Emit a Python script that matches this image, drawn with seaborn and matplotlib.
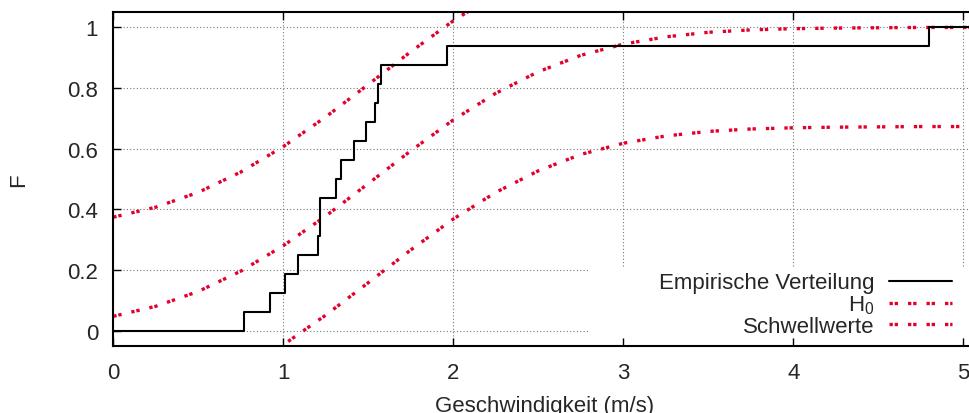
import numpy as np
import pandas as pd
import matplotlib
matplotlib.use("Agg")
import matplotlib.pyplot as plt
from matplotlib.patches import Rectangle
import seaborn as sns

ecdf_x = [0.766, 0.924, 1.008, 1.086, 1.205, 1.213, 1.216, 1.310, 1.339,
          1.414, 1.484, 1.541, 1.557, 1.576, 1.963, 4.800]
ecdf_f = [0.0625, 0.125, 0.1875, 0.25, 0.3125, 0.375, 0.4375, 0.5, 0.5625,
          0.625, 0.6875, 0.75, 0.8125, 0.875, 0.9375, 1.0]

# hypothesised distribution H0 and the KS thresholds around it
grid_x = [0.0, 0.25, 0.5, 0.75, 1.0, 1.25, 1.5, 1.75, 2.0, 2.25, 2.5,
          2.75, 3.0, 3.25, 3.5, 3.75, 4.0, 4.25, 4.5, 4.75, 5.0, 5.1]
h0_f = [0.047, 0.080, 0.129, 0.196, 0.280, 0.378, 0.485, 0.593, 0.695,
        0.783, 0.854, 0.908, 0.945, 0.969, 0.984, 0.992, 0.996, 0.998,
        0.999, 1.0, 1.0, 1.0]
upper_f = [0.374, 0.407, 0.456, 0.523, 0.607, 0.705, 0.812, 0.920, 1.022,
           1.110, 1.181, 1.235, 1.272, 1.296, 1.311, 1.319, 1.323, 1.325,
           1.326, 1.327, 1.327, 1.327]
lower_f = [-0.280, -0.247, -0.198, -0.131, -0.047, 0.051, 0.158, 0.266,
           0.368, 0.456, 0.527, 0.581, 0.618, 0.642, 0.657, 0.665, 0.669,
           0.671, 0.672, 0.673, 0.673, 0.673]

x_ticks = [0, 1, 2, 3, 4, 5]
y_ticks = [0, 0.2, 0.4, 0.6, 0.8, 1.0]
y_tick_labels = ["0", "0.2", "0.4", "0.6", "0.8", "1"]

sns.set_style("ticks")
plt.rcParams["font.family"] = ["Liberation Sans", "DejaVu Sans"]
plt.rcParams["mathtext.fontset"] = "custom"
plt.rcParams["mathtext.rm"] = "Liberation Sans"
plt.rcParams["mathtext.it"] = "Liberation Sans:italic"
plt.rcParams["font.size"] = 16

red = "#e3002c"
dots = (0, (1.0, 0.55, 1.0, 3.0))

fig = plt.figure(figsize=(9.69, 4.14), dpi=100)
W, H = 969.0, 414.0
ax_l, ax_r, ax_t, ax_b = 113.3, 980.3, 13.3, 346.7
ax = fig.add_axes([ax_l / W, 1 - ax_b / H, (ax_r - ax_l) / W, (ax_b - ax_t) / H])

step_df = pd.DataFrame({"x": [0.0] + ecdf_x + [5.1],
                        "F": [0.0] + ecdf_f + [1.0]})
band_df = pd.DataFrame({"x": grid_x, "h0": h0_f, "up": upper_f, "lo": lower_f})

sns.lineplot(data=step_df, x="x", y="F", ax=ax, color="black", lw=1.5,
             drawstyle="steps-post", estimator=None, errorbar=None,
             label="Empirische Verteilung", zorder=3)
sns.lineplot(data=band_df, x="x", y="h0", ax=ax, color=red, lw=2.4,
             linestyle=dots, estimator=None, errorbar=None,
             label="H$_0$", zorder=2)
sns.lineplot(data=band_df, x="x", y="up", ax=ax, color=red, lw=2.4,
             linestyle=dots, estimator=None, errorbar=None,
             label="Schwellwerte", zorder=2)
sns.lineplot(data=band_df, x="x", y="lo", ax=ax, color=red, lw=2.4,
             linestyle=dots, estimator=None, errorbar=None,
             label="_nolegend_", zorder=2)

ax.set_xlim(0, 5.1)
ax.set_ylim(-0.05, 1.05)
ax.set_xticks(x_ticks)
ax.set_xticklabels([str(t) for t in x_ticks])
ax.set_yticks(y_ticks)
ax.set_yticklabels(y_tick_labels)
ax.set_axisbelow("line")
ax.grid(True, color="#777777", linestyle=(0, (1, 2)), linewidth=0.8)
ax.tick_params(direction="in", top=True, right=True, length=6, width=1.0,
               labelsize=16, color="black")
ax.tick_params(axis="y", pad=11)
ax.tick_params(axis="x", pad=12)
for s in ax.spines.values():
    s.set_linewidth(1.5)
    s.set_color("black")

ax_w, ax_h = ax_r - ax_l, ax_b - ax_t
ax.set_xlabel("Geschwindigkeit (m/s)", fontsize=16)
ax.xaxis.set_label_coords((545 - ax_l) / ax_w, -(396 - ax_b) / ax_h)
ax.set_ylabel("F", fontsize=16, va="center", ha="center")
ax.yaxis.set_label_coords((19 - ax_l) / ax_w, 0.5)

# opaque key area like gnuplot's key box
ax.add_patch(Rectangle(((588 - ax_l) / ax_w, (ax_b - 338) / ax_h),
                       1.0, (338 - 268) / ax_h, transform=ax.transAxes,
                       facecolor="white", edgecolor="none", zorder=1.6))

leg = ax.legend(loc="lower right", markerfirst=False, frameon=False,
                bbox_to_anchor=((951.7 - ax_l) / ax_w, (ax_b - 338) / ax_h),
                borderpad=0, borderaxespad=0, handlelength=2.8,
                handletextpad=0.68, labelspacing=0.0, fontsize=16)

fig.savefig("out.png", dpi=100)
